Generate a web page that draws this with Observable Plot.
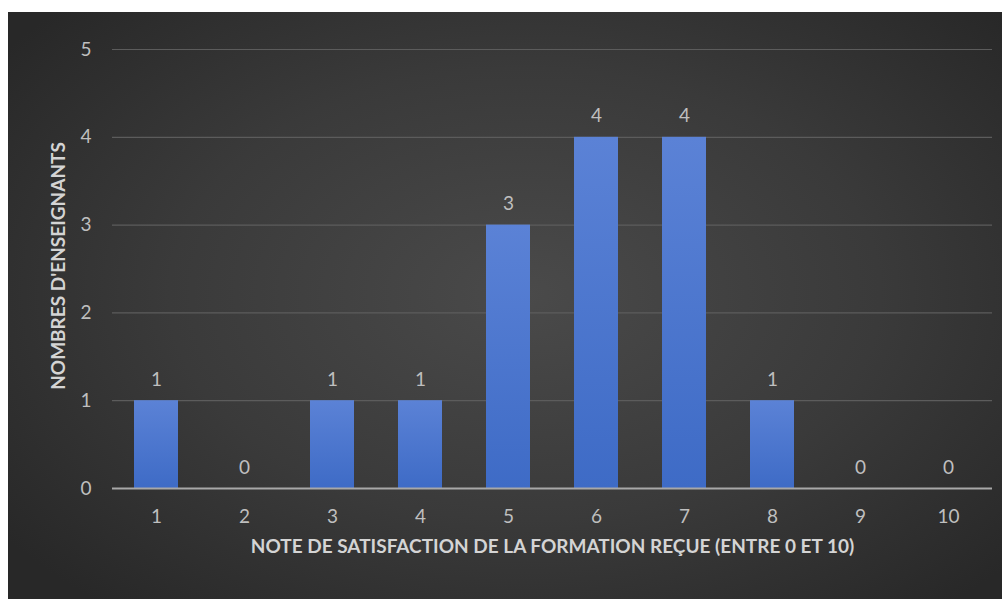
<!DOCTYPE html>
<html>
<head>
<meta charset="utf-8">
<script src="https://cdn.jsdelivr.net/npm/d3@7"></script>
<script src="https://cdn.jsdelivr.net/npm/@observablehq/plot@0.6"></script>
<style>
  html, body { margin: 0; padding: 0; background: #ffffff; }
  #wrap {
    position: absolute; left: 8px; top: 12px; width: 994px; height: 587px;
    background: radial-gradient(ellipse 65% 70% at 52% 48%, #4a4a4a 0%, #3a3a3a 55%, #282828 100%);
    overflow: hidden;
  }
  #wrap svg { position: absolute; left: 0; top: 0; }
</style>
</head>
<body>
<div id="wrap"></div>
<script>
const categories = ["1", "2", "3", "4", "5", "6", "7", "8", "9", "10"];
const counts = [1, 0, 1, 1, 3, 4, 4, 1, 0, 0];
const yTicks = [0, 1, 2, 3, 4, 5];
const xTitle = "NOTE DE SATISFACTION DE LA FORMATION REÇUE (ENTRE 0 ET 10)";
const yTitle = "NOMBRES D'ENSEIGNANTS";

const data = categories.map((c, i) => ({note: c, n: counts[i]}));
const font = "Lato, 'Open Sans', sans-serif";

const chart = Plot.plot({
  width: 994,
  height: 587,
  marginLeft: 104,
  marginRight: 10,
  marginTop: 37,
  marginBottom: 111,
  style: {background: "transparent", color: "#bfbfbf", fontFamily: font, fontSize: "19px"},
  x: {domain: categories, paddingInner: 0.5, paddingOuter: 0.25, label: null},
  y: {domain: [0, 5], label: null},
  marks: [
    Plot.ruleY(yTicks.filter(d => d > 0), {stroke: "#5c5c5c", strokeWidth: 1.2}),
    Plot.barY(data, {x: "note", y: "n", fill: "url(#barGrad)"}),
    Plot.ruleY([0], {stroke: "#a8a8a8", strokeWidth: 2.2}),
    Plot.axisX({tickSize: 0, tickPadding: 21, fontSize: 19, label: null}),
    Plot.axisY({ticks: yTicks, tickFormat: d => String(d), tickSize: 0, tickPadding: 21, fontSize: 19, label: null}),
    Plot.text(data, {x: "note", y: "n", text: d => String(d.n), dy: -21, fill: "#bfbfbf", fontSize: 19}),
    Plot.text([xTitle], {frameAnchor: "bottom", dy: 64, fill: "#d4d4d4", fontWeight: "bold", fontSize: 19}),
    Plot.text([yTitle], {frameAnchor: "left", textAnchor: "middle", dx: -54, dy: -3, rotate: -90, fill: "#d4d4d4", fontWeight: "bold", fontSize: 19})
  ]
});

const svg = d3.select(chart);
const defs = svg.insert("defs", ":first-child");
const g = defs.append("linearGradient").attr("id", "barGrad")
  .attr("x1", 0).attr("y1", 0).attr("x2", 0).attr("y2", 1);
g.append("stop").attr("offset", "0%").attr("stop-color", "#5b82d6");
g.append("stop").attr("offset", "100%").attr("stop-color", "#3e6bc6");

document.getElementById("wrap").appendChild(chart);
</script>
</body>
</html>
